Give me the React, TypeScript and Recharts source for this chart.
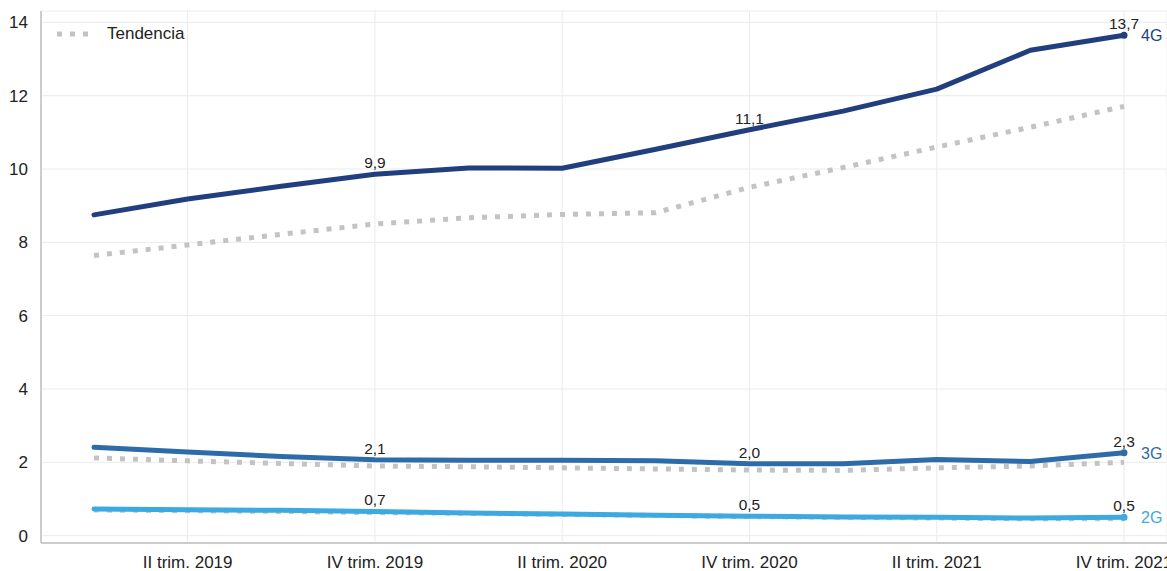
import { CartesianGrid, LabelList, Line, LineChart, XAxis, YAxis } from "recharts";

const categories = [
  "I trim. 2019",
  "II trim. 2019",
  "III trim. 2019",
  "IV trim. 2019",
  "I trim. 2020",
  "II trim. 2020",
  "III trim. 2020",
  "IV trim. 2020",
  "I trim. 2021",
  "II trim. 2021",
  "III trim. 2021",
  "IV trim. 2021",
];

const g4 = [8.75, 9.18, 9.53, 9.86, 10.03, 10.02, 10.54, 11.07, 11.58, 12.18, 13.24, 13.65];
const g4Trend = [7.64, 7.93, 8.22, 8.5, 8.67, 8.76, 8.81, 9.5, 10.04, 10.6, 11.14, 11.71];
const g3 = [2.41, 2.28, 2.16, 2.07, 2.06, 2.06, 2.04, 1.96, 1.96, 2.08, 2.02, 2.26];
const g3Trend = [2.12, 2.04, 1.97, 1.9, 1.88, 1.85, 1.82, 1.79, 1.78, 1.85, 1.9, 2.0];
const g2 = [0.73, 0.71, 0.69, 0.66, 0.62, 0.59, 0.56, 0.53, 0.51, 0.5, 0.48, 0.5];
const g2Trend = [0.7, 0.68, 0.66, 0.63, 0.61, 0.58, 0.55, 0.52, 0.5, 0.48, 0.46, 0.46];

const yTicks = [0, 2, 4, 6, 8, 10, 12, 14];
const xTicks = [1, 3, 5, 7, 9, 11];
const labelledPoints = [3, 7, 11];

const data = categories.map((c, i) => ({
  idx: i,
  cat: c,
  g4: g4[i],
  g4t: g4Trend[i],
  g3: g3[i],
  g3t: g3Trend[i],
  g2: g2[i],
  g2t: g2Trend[i],
}));

const FONT = "'Liberation Sans', Arial, sans-serif";
const TREND = "#c3c3c3";
const C4 = "#213f7e";
const C3 = "#2d6ca9";
const C2 = "#3ca9e0";

const fmt = (v: number) => v.toFixed(1).replace(".", ",");

function makeLabel(name: string, color: string) {
  return (props: any) => {
    const { x, y, index, value } = props;
    if (!labelledPoints.includes(index)) return null;
    const last = index === categories.length - 1;
    return (
      <g key={`${name}-${index}`}>
        <text x={x} y={y - 6} textAnchor="middle" fontSize={15.5} fontFamily={FONT} fill="#222">
          {fmt(value)}
        </text>
        {last && (
          <text x={x + 17} y={y + 6} fontSize={16} fontFamily={FONT} fill={color}>
            {name}
          </text>
        )}
      </g>
    );
  };
}

const endDot = (color: string) => (props: any) => {
  const { cx, cy, index } = props;
  if (index !== categories.length - 1) return <g key={index} />;
  return <circle key={index} cx={cx} cy={cy} r={3.5} fill={color} />;
};

function TrendLegend() {
  return (
    <div
      style={{
        position: "absolute",
        left: 57,
        top: 24,
        display: "flex",
        alignItems: "center",
        fontFamily: FONT,
        fontSize: 17,
        color: "#222",
        lineHeight: "20px",
      }}
    >
      <svg width={34} height={10} style={{ marginRight: 16 }}>
        <line x1={0} y1={5} x2={34} y2={5} stroke={TREND} strokeWidth={5} strokeDasharray="5 8" />
      </svg>
      Tendencia
    </div>
  );
}

export default function App() {
  const common = { strokeWidth: 5, strokeLinecap: "round" as const, strokeLinejoin: "round" as const, isAnimationActive: false };
  return (
    <div style={{ position: "absolute", left: 0, top: 0, width: 1167, height: 571, background: "#fff" }}>
      <LineChart width={1167} height={571} data={data} margin={{ top: 11, right: 0, bottom: 0, left: 0 }}>
        <CartesianGrid stroke="#ebebeb" strokeWidth={1} />
        <XAxis
          dataKey="idx"
          type="number"
          domain={[0, 11]}
          ticks={xTicks}
          tickFormatter={(i: number) => categories[i]}
          padding={{ left: 53, right: 43 }}
          height={28}
          stroke="#cccccc"
          strokeWidth={2}
          tickLine={false}
          tick={{ fontSize: 17, fill: "#222", fontFamily: FONT }}
          tickMargin={7}
          interval={0}
        />
        <YAxis
          type="number"
          domain={[-0.2, 14.31]}
          ticks={yTicks}
          width={41}
          stroke="#cccccc"
          strokeWidth={2}
          tickLine={false}
          tick={{ fontSize: 17, fill: "#222", fontFamily: FONT }}
          tickMargin={7}
          allowDataOverflow
        />
        <Line dataKey="g4t" stroke={TREND} strokeWidth={5} strokeDasharray="5 8" dot={false} isAnimationActive={false} />
        <Line dataKey="g3t" stroke={TREND} strokeWidth={5} strokeDasharray="5 8" dot={false} isAnimationActive={false} />
        <Line dataKey="g2t" stroke={TREND} strokeWidth={5} strokeDasharray="5 8" dot={false} isAnimationActive={false} />
        <Line dataKey="g4" stroke={C4} {...common} dot={endDot(C4)}>
          <LabelList dataKey="g4" content={makeLabel("4G", C4)} />
        </Line>
        <Line dataKey="g3" stroke={C3} {...common} dot={endDot(C3)}>
          <LabelList dataKey="g3" content={makeLabel("3G", C3)} />
        </Line>
        <Line dataKey="g2" stroke={C2} {...common} dot={endDot(C2)}>
          <LabelList dataKey="g2" content={makeLabel("2G", C2)} />
        </Line>
      </LineChart>
      <TrendLegend />
    </div>
  );
}
